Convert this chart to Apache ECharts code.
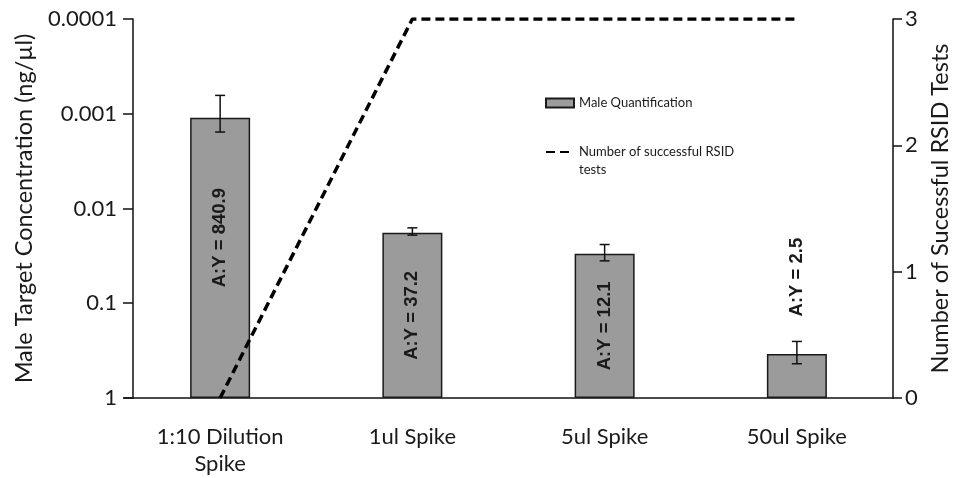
<!DOCTYPE html>
<html>
<head>
<meta charset="utf-8">
<script src="https://cdn.jsdelivr.net/npm/echarts@6/dist/echarts.min.js"></script>
<style>
html, body { margin: 0; padding: 0; background: #fff; }
#main { width: 962px; height: 478px; }
</style>
</head>
<body>
<div id="main"></div>
<script>
var categories = ['1:10 Dilution\nSpike', '1ul Spike', '5ul Spike', '50ul Spike'];
var concentration = [0.0011, 0.018, 0.030, 0.344];
var errLow = [0.00064, 0.016, 0.024, 0.253];
var errHigh = [0.00156, 0.0191, 0.0357, 0.435];
var ratioLabels = ['A:Y = 840.9', 'A:Y = 37.2', 'A:Y = 12.1', 'A:Y = 2.5'];
var rsidTests = [0, 3, 3, 3];

var barName = 'Male Quantification';
var lineName = 'Number of successful RSID\ntests';

(function () {
    var myChart = echarts.init(document.getElementById('main'));
    var font = 'Lato';
    var ink = '#1a1a1a';

    // label placement tweaks for the first and last bar
    var labelPos = { 0: ['50%', 120], 3: ['50%', -77] };

    var barData = [];
    for (var i = 0; i < concentration.length; i++) {
        var item = { value: concentration[i] };
        if (labelPos[i]) {
            item.label = { position: labelPos[i] };
        }
        barData.push(item);
    }

    var errData = [];
    for (var i = 0; i < errLow.length; i++) {
        errData.push([i, errLow[i], errHigh[i]]);
    }

    var option = {
        animation: false,
        textStyle: { fontFamily: font },
        grid: { left: 124, right: 69, top: 19, bottom: 80 },
        legend: {
            left: 540,
            top: 89,
            orient: 'vertical',
            itemWidth: 28,
            itemHeight: 9,
            itemGap: 13,
            textStyle: { fontFamily: font, fontSize: 13, color: ink, lineHeight: 18 },
            formatter: function (name) {
                // blank first line keeps the icon level with the first text line
                return name.indexOf('\n') > -1 ? ' \n' + name : name;
            },
            data: [
                { name: barName, icon: 'rect' },
                { name: lineName, itemStyle: { opacity: 0 } }
            ]
        },
        xAxis: {
            type: 'category',
            data: categories,
            axisLine: { lineStyle: { color: '#111', width: 1.5 } },
            axisTick: { show: false },
            axisLabel: { color: ink, fontSize: 22, lineHeight: 27, margin: 25 }
        },
        yAxis: [{
            type: 'log',
            logBase: 10,
            min: 0.0001,
            max: 1,
            inverse: true,
            offset: -9,
            name: 'Male Target Concentration (ng/µl)',
            nameLocation: 'middle',
            nameGap: 97,
            nameTextStyle: { color: ink, fontSize: 23.5 },
            axisLine: { show: true, lineStyle: { color: '#111', width: 1.5 } },
            axisTick: { show: true, length: 10, lineStyle: { color: '#111', width: 1.5 } },
            axisLabel: {
                color: ink, fontSize: 22, margin: 16,
                formatter: function (v) { return String(+v.toPrecision(2)); }
            },
            splitLine: { show: false }
        }, {
            type: 'value',
            min: 0,
            max: 3,
            interval: 1,
            position: 'right',
            name: 'Number of Sucessful RSID Tests',
            nameLocation: 'middle',
            nameGap: 30,
            nameRotate: 90,
            nameTextStyle: { color: ink, fontSize: 23.5 },
            axisLine: { show: true, lineStyle: { color: '#111', width: 1.5 } },
            axisTick: { show: true, length: 9, lineStyle: { color: '#111', width: 1.5 } },
            axisLabel: { color: ink, fontSize: 22, margin: 12 },
            splitLine: { show: false }
        }],
        series: [{
            name: barName,
            type: 'bar',
            yAxisIndex: 0,
            barWidth: 60,
            data: barData,
            itemStyle: { color: '#9b9b9b', borderColor: '#1a1a1a', borderWidth: 1.5 },
            label: {
                show: true,
                position: 'inside',
                rotate: 90,
                align: 'center',
                verticalAlign: 'middle',
                fontFamily: '"Liberation Sans", Arial, sans-serif',
                fontWeight: 'bold',
                fontSize: 18.5,
                color: ink,
                formatter: function (p) { return ratioLabels[p.dataIndex]; }
            },
            z: 2
        }, {
            type: 'custom',
            yAxisIndex: 0,
            data: errData,
            encode: { x: 0, y: [1, 2] },
            renderItem: function (params, api) {
                var lo = api.coord([api.value(0), api.value(1)]);
                var hi = api.coord([api.value(0), api.value(2)]);
                var w = 5;
                var st = { stroke: '#111', lineWidth: 1.5 };
                return {
                    type: 'group',
                    children: [
                        { type: 'line', shape: { x1: lo[0], y1: lo[1], x2: hi[0], y2: hi[1] }, style: st },
                        { type: 'line', shape: { x1: lo[0] - w, y1: lo[1], x2: lo[0] + w, y2: lo[1] }, style: st },
                        { type: 'line', shape: { x1: hi[0] - w, y1: hi[1], x2: hi[0] + w, y2: hi[1] }, style: st }
                    ]
                };
            },
            z: 3
        }, {
            name: lineName,
            type: 'line',
            yAxisIndex: 1,
            data: rsidTests,
            symbol: 'none',
            lineStyle: { color: '#000', width: 3.5, type: [9, 5] },
            itemStyle: { color: '#000' },
            z: 4
        }]
    };

    myChart.setOption(option);
    window.addEventListener('resize', function () {
        myChart.resize();
    });
})();
</script>
</body>
</html>
